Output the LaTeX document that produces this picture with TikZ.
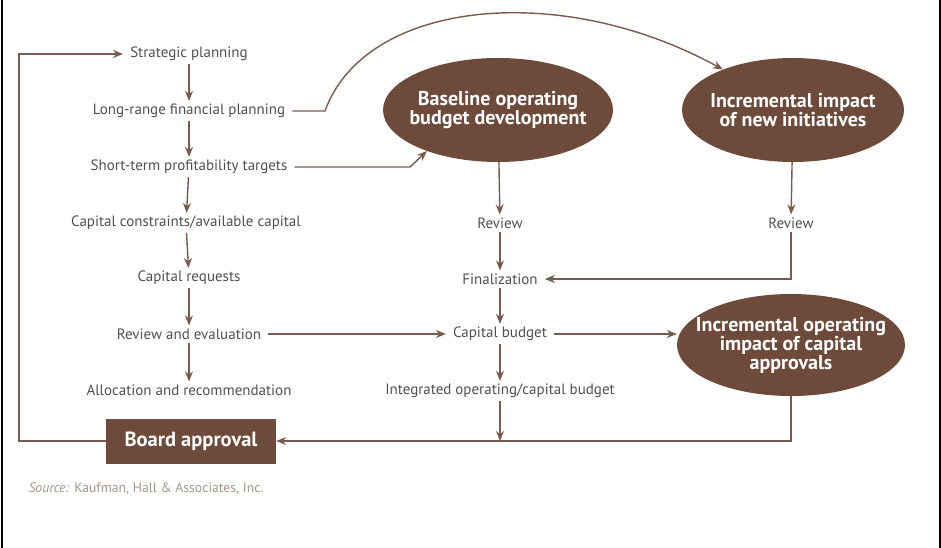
\documentclass[tikz,border=0pt]{standalone}
\usepackage{fontspec}
\setmainfont{PT Sans}
\usetikzlibrary{shapes.geometric, arrows.meta}

\definecolor{barkbrown}{RGB}{110,74,58}
\definecolor{linebrown}{RGB}{122,90,76}
\definecolor{labelgray}{RGB}{80,80,80}
\definecolor{sourcegray}{RGB}{165,150,140}

\newcommand{\stepfont}{\fontsize{15}{17}\selectfont}
\newcommand{\ovalfont}{\bfseries\fontsize{20}{19}\selectfont}
\newcommand{\boardfont}{\bfseries\fontsize{20.5}{22}\selectfont}

\begin{document}
\begin{tikzpicture}[x = 1pt, y = -1pt]
\tikzstyle{StepStyle} = [text = labelgray, font = \stepfont, inner xsep = 7pt, inner ysep = 3pt]
\tikzstyle{OvalStyle} = [shape = ellipse, minimum width = 230pt, minimum height = 104pt, inner xsep = -30pt, inner ysep = -20pt, fill = barkbrown, text = white, font = \ovalfont, align = center]
\tikzstyle{BoardStyle} = [shape = rectangle, minimum width = 170pt, minimum height = 45pt, fill = barkbrown, text = white, font = \boardfont]
\tikzstyle{EdgeStyle} = [line width = 1.4pt, draw = linebrown]
\tikzstyle{ArrowStyle} = [EdgeStyle, -{Stealth[length = 10pt, width = 8pt]}]
\useasboundingbox (0,0) rectangle (941,548);
\draw[black, line width = 1.2pt] (2,0) -- (2,548);
\draw[black, line width = 1.2pt] (940,0) -- (940,548);
% left column
\node[StepStyle] (sp) at (189,54) {Strategic planning};
\node[StepStyle] (lr) at (189,111) {Long-range financial planning};
\node[StepStyle] (st) at (189,167) {Short-term profitability targets};
\node[StepStyle] (cc) at (186,223) {Capital constraints/available capital};
\node[StepStyle] (cr) at (189,278) {Capital requests};
\node[StepStyle] (re) at (189,334) {Review and evaluation};
\node[StepStyle] (ar) at (189,390) {Allocation and recommendation};
\node[BoardStyle] (ba) at (191,441) {Board approval};
% middle column
\node[OvalStyle] (base) at (498,110) {Baseline operating\\budget development};
\node[StepStyle] (rv) at (500,223) {Review};
\node[StepStyle] (fin) at (500,279) {Finalization};
\node[StepStyle] (cb) at (500,334) {Capital budget};
\node[StepStyle] (int) at (500,391) {Integrated operating/capital budget};
% right column
\node[OvalStyle, minimum width = 222pt] (imp) at (793,110) {Incremental impact\\of new initiatives};
\node[StepStyle] (rvr) at (791,223) {Review};
\node[OvalStyle, minimum width = 228pt, minimum height = 102pt] (iop) at (791,345) {Incremental operating\\impact of capital\\approvals};
\node[anchor = west, text = sourcegray, font = \fontsize{13.7}{15}\selectfont] (src) at (25,489) {\textit{Source:} Kaufman, Hall \& Associates, Inc.};
\coordinate (lrbend) at (325,111);
\coordinate (stbend) at (410,167);
\coordinate (loop) at (19,441);
% connectors
\draw[ArrowStyle] (sp) -- (lr);
\draw[ArrowStyle] (lr) -- (st);
\draw[ArrowStyle] (st) -- (cc);
\draw[ArrowStyle] (cc) -- (cr);
\draw[ArrowStyle] (cr) -- (re);
\draw[ArrowStyle] (re) -- (ar);
\draw[ArrowStyle] (lr.east) -- (lrbend) .. controls (365,0) and (560,-20) .. (imp.150);
\draw[ArrowStyle] (st.east) -- (stbend) -- (base.210);
\draw[ArrowStyle] (base) -- (rv);
\draw[ArrowStyle] (rv) -- (fin);
\draw[ArrowStyle] (fin) -- (cb);
\draw[ArrowStyle] (cb) -- (int);
\draw[ArrowStyle] (imp) -- (rvr);
\draw[ArrowStyle] (rvr.south) |- (fin.east);
\draw[ArrowStyle] (re) -- (cb);
\draw[ArrowStyle] (cb.east) -- (cb.east -| iop.west);
\draw[ArrowStyle] (iop.south) |- (ba.east);
\draw[ArrowStyle] (int) -- (int |- ba);
\draw[ArrowStyle] (ba.west) -- (loop) |- (sp.west);
\end{tikzpicture}
\end{document}
